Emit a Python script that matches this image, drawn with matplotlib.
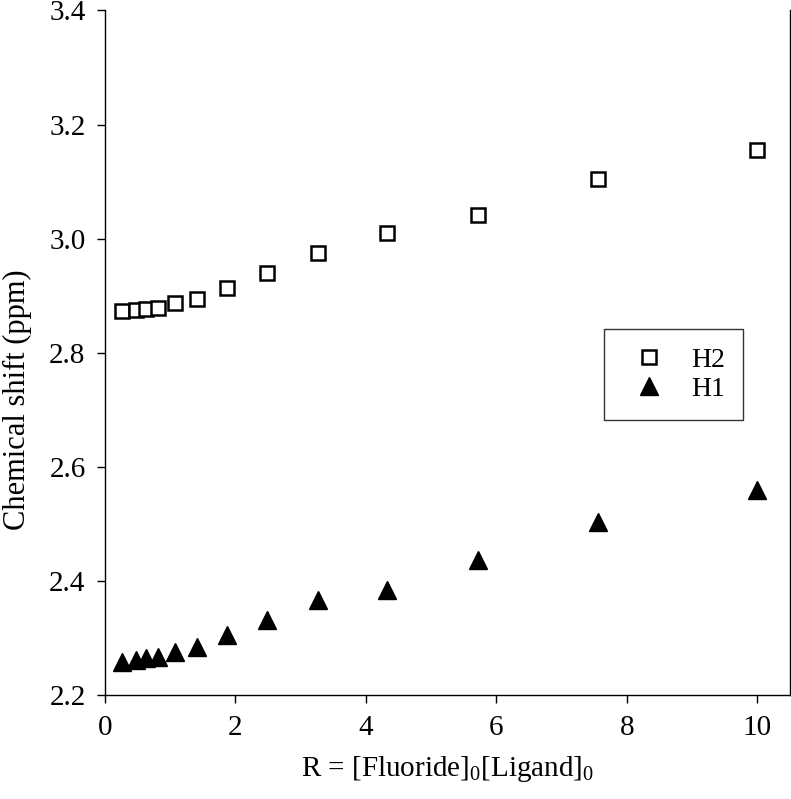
import matplotlib.pyplot as plt

plt.rcParams['font.family'] = ['Liberation Serif', 'DejaVu Serif']
plt.rcParams['mathtext.fontset'] = 'custom'
plt.rcParams['mathtext.rm'] = 'Liberation Serif'
plt.rcParams['mathtext.it'] = 'Liberation Serif:italic'

# R = [Fluoride]0/[Ligand]0
r_values = [0.26, 0.47, 0.63, 0.81, 1.07, 1.41, 1.87, 2.48, 3.26, 4.32, 5.72, 7.56, 10.0]
h2_shift = [2.873, 2.875, 2.877, 2.879, 2.887, 2.894, 2.913, 2.940, 2.975,
            3.009, 3.041, 3.104, 3.155]
h1_shift = [2.258, 2.261, 2.265, 2.266, 2.275, 2.285, 2.305, 2.332, 2.366,
            2.384, 2.437, 2.504, 2.559]

x_ticks = [0, 2, 4, 6, 8, 10]
y_ticks = [2.2, 2.4, 2.6, 2.8, 3.0, 3.2, 3.4]

fig = plt.figure(figsize=(7.91, 7.99), dpi=100)
ax = fig.add_axes([0.1327, 0.130, 0.866, 0.857])

ax.plot(r_values, h2_shift, linestyle='none', marker='s', markersize=9.5,
        markerfacecolor='white', markeredgecolor='black', markeredgewidth=1.8,
        label='H2')
ax.plot(r_values, h1_shift, linestyle='none', marker='^', markersize=12.5,
        color='black', label='H1')

ax.set_xlim(0, 10.5)
ax.set_ylim(2.2, 3.4)
ax.set_xticks(x_ticks)
ax.set_yticks(y_ticks)
ax.set_yticklabels(['%.1f' % v for v in y_ticks])
ax.tick_params(direction='out', length=6, width=1, labelsize=21, pad=8)
ax.spines['top'].set_visible(False)
for side in ['left', 'bottom', 'right']:
    ax.spines[side].set_linewidth(1)

ax.set_xlabel(r'R = [Fluoride]$_\mathrm{0}$[Ligand]$_\mathrm{0}$', fontsize=21,
              labelpad=10)
fig.text(0.022, 0.5, 'Chemical shift (ppm)', rotation=90, fontsize=22,
         va='center', ha='center')

leg = ax.legend(loc='upper left', bbox_to_anchor=(0.728, 0.534), fontsize=20,
                frameon=True, fancybox=False, numpoints=1, handlelength=2.0,
                handletextpad=0.5, borderpad=0.65, labelspacing=0.12,
                borderaxespad=0)
leg.get_frame().set_edgecolor('black')
leg.get_frame().set_linewidth(1)

fig.savefig('out.png', dpi=100)
